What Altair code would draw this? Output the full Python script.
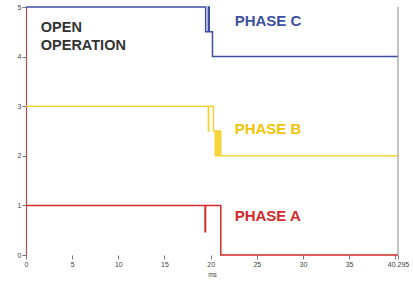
import altair as alt
import pandas as pd

# Phase traces (time in ms, value)
phase_c_t = [0, 19.46, 19.46, 19.75, 19.75, 19.85, 19.85, 20.2, 20.2, 40.295]
phase_c_v = [5, 5, 4.5, 4.5, 5, 5, 4.5, 4.5, 4, 4]

phase_b_t = [0, 19.75, 19.75, 19.8, 19.8, 20.3, 20.3, 20.5,
             20.5, 20.6, 20.6, 20.7, 20.7, 20.8, 20.8, 20.9, 20.9, 21.0, 21.0, 21.1, 21.1, 40.295]
phase_b_v = [3, 3, 2.5, 2.5, 3, 3, 2.5, 2.5,
             2.0, 2.0, 2.5, 2.5, 2.0, 2.0, 2.5, 2.5, 2.0, 2.0, 2.5, 2.5, 2.0, 2.0]

phase_a_t = [0, 19.4, 19.4, 19.45, 19.45, 21.1, 21.1, 40.295]
phase_a_v = [1, 1, 0.47, 0.47, 1, 1, 0, 0]

phases = ["PHASE C", "PHASE B", "PHASE A"]
colors = ["#3d4fa3", "#f5d43a", "#d42a2a"]
text_colors = ["#3d4fa3", "#f2c400", "#d42a2a"]

x_ticks = [0, 5, 10, 15, 20, 25, 30, 35, 40, 40.295]
y_ticks = [0, 0.5, 1, 1.5, 2, 2.5, 3, 3.5, 4, 4.5, 5]

label_x = [22.6, 22.6, 22.6]
label_y = [4.72, 2.55, 0.78]

note_lines = ["OPEN", "OPERATION"]
note_x = [1.6, 1.6]
note_y = [4.58, 4.21]

rows = []
for name, ts, vs in zip(phases, [phase_c_t, phase_b_t, phase_a_t], [phase_c_v, phase_b_v, phase_a_v]):
    for i, (t, v) in enumerate(zip(ts, vs)):
        rows.append({"t": t, "v": v, "phase": name, "i": i})
df = pd.DataFrame(rows)

xscale = alt.Scale(domain=[0, 40.295], nice=False, zero=False)
yscale = alt.Scale(domain=[0, 5], nice=False)

x_axis = alt.Axis(values=x_ticks, labelExpr="datum.value == 40 ? '' : '' + datum.value",
                  grid=False, domain=False, tickColor="#777", tickSize=4, labelFontSize=7,
                  labelColor="#444", labelPadding=1, title="ms", titleFontSize=6.5,
                  titleFontWeight="normal", titleColor="#444", titleY=19, titleBaseline="middle",
                  labelFlush=False)
y_axis = alt.Axis(values=y_ticks, format="~g", grid=False, domainColor="#a8504a", domainWidth=1.2,
                  tickColor="#777", tickSize=4, labelFontSize=7, labelColor="#444",
                  labelPadding=1, title=None, labelFlush=False)

lines = alt.Chart(df).mark_line(strokeWidth=1.5, interpolate="linear").encode(
    x=alt.X("t:Q", scale=xscale, axis=x_axis),
    y=alt.Y("v:Q", scale=yscale, axis=y_axis),
    color=alt.Color("phase:N", scale=alt.Scale(domain=phases, range=colors), legend=None),
    detail="phase:N",
    order="i:Q",
)

border = alt.Chart(pd.DataFrame({"t": [40.295]})).mark_rule(color="#888", strokeWidth=1).encode(
    x=alt.X("t:Q", scale=xscale), y=alt.value(0), y2=alt.value(248)
)

lab_df = pd.DataFrame({"t": label_x, "v": label_y, "phase": phases})
labels = alt.Chart(lab_df).mark_text(align="left", baseline="middle", fontSize=15,
                                     fontWeight="bold", font="Liberation Sans").encode(
    x=alt.X("t:Q", scale=xscale), y=alt.Y("v:Q", scale=yscale), text="phase:N",
    color=alt.Color("phase:N", scale=alt.Scale(domain=phases, range=text_colors), legend=None),
)

note_df = pd.DataFrame({"t": note_x, "v": note_y, "txt": note_lines})
note = alt.Chart(note_df).mark_text(align="left", baseline="middle", fontSize=14.5,
                                    fontWeight="bold", font="Liberation Sans", color="#333").encode(
    x=alt.X("t:Q", scale=xscale), y=alt.Y("v:Q", scale=yscale), text="txt:N"
)

chart = alt.layer(lines, border, labels, note).resolve_scale(color="independent").properties(
    width=372, height=248,
    autosize=alt.AutoSizeParams(type="none"),
    padding={"left": 26, "top": 7, "right": 15, "bottom": 27},
).configure_view(stroke=None).configure_axis(labelFont="Liberation Sans", titleFont="Liberation Sans")

chart.save("out.html", embed_options={"renderer": "svg", "actions": False})
